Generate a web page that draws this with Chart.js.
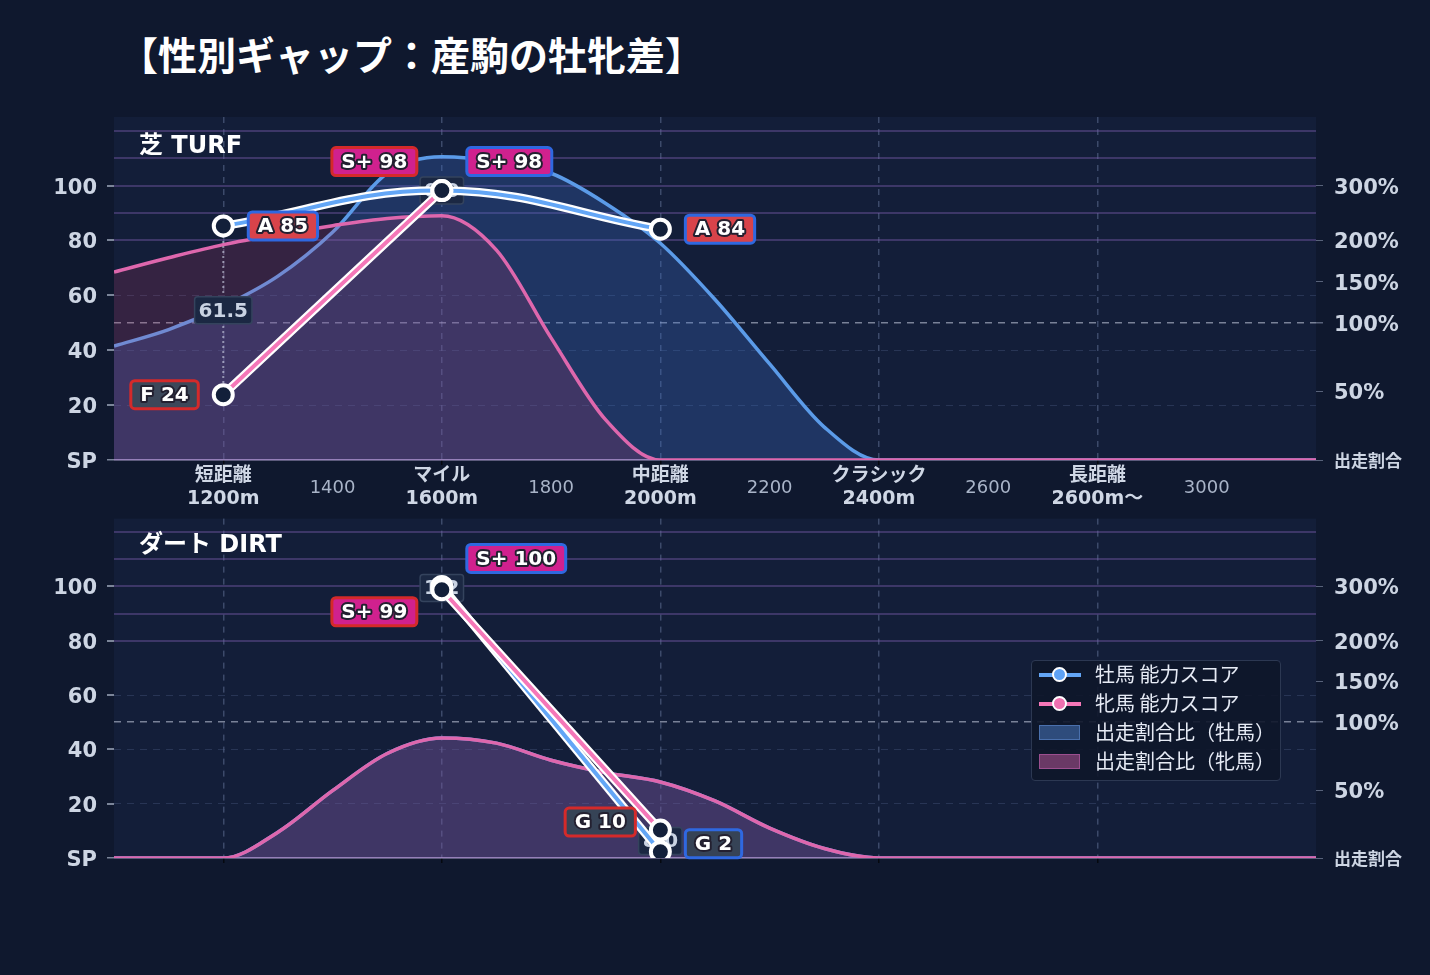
<!DOCTYPE html>
<html lang="ja">
<head>
<meta charset="utf-8">
<title>性別ギャップ：産駒の牡牝差</title>
<script src="https://cdn.jsdelivr.net/npm/chart.js@4.4.1/dist/chart.umd.min.js"></script>
<style>
body { margin: 0; background: #0f182e; }
#wrap { position: relative; width: 1430px; height: 975px; overflow: hidden; font-family: "DejaVu Sans", "Noto Sans CJK JP", sans-serif; }
canvas { position: absolute; left: 0; }
#title { position: absolute; left: 119px; top: 34px; font: bold 39px/39px "Noto Sans CJK JP", sans-serif; color: #fff; white-space: nowrap; }
.panel { position: absolute; left: 139px; font-weight: bold; font-size: 24px; line-height: 24px; color: #fff; white-space: nowrap; }
#legend { position: absolute; left: 1031px; top: 660px; width: 250px; height: 121px; box-sizing: border-box;
  background: rgba(14, 22, 42, 0.9); border: 1.5px solid #2c3852; border-radius: 4px; padding: 0 0 0 7px; }
.item { height: 29px; display: flex; align-items: center; font: 20px "Noto Sans CJK JP", sans-serif; color: #e6ebf5; white-space: nowrap; position: relative; top: -2px; }
.sw { width: 42px; height: 15px; margin-right: 14px; position: relative; flex: none; top: 1px; }
.sw .ln { position: absolute; left: 0; right: 0; top: 5.5px; height: 4px; }
.sw .dot { position: absolute; left: 13px; top: 0; width: 11px; height: 11px; border: 2px solid #fff; border-radius: 50%; }
.sw .box { position: absolute; left: 0; top: 0; width: 39px; height: 13px; }
</style>
</head>
<body>
<div id="wrap">
  <div id="title">【性別ギャップ：産駒の牡牝差】</div>
  <canvas id="turfChart" width="1430" height="515" style="top:0"></canvas>
  <canvas id="dirtChart" width="1430" height="480" style="top:495px"></canvas>
  <div class="panel" style="top:133px">芝 TURF</div>
  <div class="panel" style="top:532px">ダート DIRT</div>
  <div id="legend"></div>
</div>
<script>
// 距離（m）
const distances = [1000, 1100, 1200, 1300, 1400, 1500, 1600, 1700, 1800, 1900, 2000, 2100,
    2200, 2300, 2400, 2500, 2600, 2700, 2800, 2900, 3000, 3100, 3200];

// 出走割合比（左軸の目盛りに換算した値）
const turfShareM = [41.5, 47.5, 56, 67, 83, 104.5, 110.5, 108.8, 104.5, 93.5, 79, 58.5,
    35, 12, 0, 0, 0, 0, 0, 0, 0, 0, 0];
const turfShareF = [68.5, 73.7, 78.5, 82.2, 85.4, 88, 89, 76.5, 44.5, 14.6, 0, 0,
    0, 0, 0, 0, 0, 0, 0, 0, 0, 0, 0];
const dirtShareM = [0, 0, 0, 9.5, 24.8, 38.5, 44.2, 42.3, 36, 31.4, 28, 21,
    11, 3.5, 0, 0, 0, 0, 0, 0, 0, 0, 0];
const dirtShareF = [0, 0, 0, 9.5, 24.8, 38.5, 44.2, 42.3, 36, 31.4, 28, 21,
    11, 3.5, 0, 0, 0, 0, 0, 0, 0, 0, 0];

// 能力スコア
const turfScoreDistM = [1200, 1600, 2000];
const turfScoreM = [85.3, 98.2, 84.1];
const turfScoreDistF = [1200, 1600];
const turfScoreF = [23.8, 98.2];
const dirtScoreDistM = [1600, 2000];
const dirtScoreM = [100.0, 2.3];
const dirtScoreDistF = [1600, 2000];
const dirtScoreF = [98.8, 10.3];

// ラベルの上下ずらし（px）
const turfShiftM = [0, -29, 0];
const turfShiftF = [0, -29];
const dirtShiftM = [-28, -8];
const dirtShiftF = [22, -8];

// 目盛り
const xTicks = [1200, 1400, 1600, 1800, 2000, 2200, 2400, 2600, 2800, 3000];
const zoneLabels = {
    1200: ['短距離', '1200m'],
    1600: ['マイル', '1600m'],
    2000: ['中距離', '2000m'],
    2400: ['クラシック', '2400m'],
    2800: ['長距離', '2600m〜']
};
const leftTicks = [0, 20, 40, 60, 80, 90, 100, 110, 120];
const leftTickText = ['SP', '20', '40', '60', '80', '', '100', '', ''];
const rightTicks = [0, 20, 25, 40, 50, 60, 65, 80, 100];
const rightTickText = ['出走割合', '', '50%', '', '100%', '', '150%', '200%', '300%'];

const ranks = [['S+', 95], ['S', 90], ['A', 80], ['B', 70], ['C', 60], ['D', 50], ['E', 40], ['F', 20], ['G', 0]];
const rankFill = {
    'S+': '#d0218e', 'S': '#b8309e', 'A': '#d8434a', 'B': '#e07a30', 'C': '#c9a020',
    'D': '#5a9a40', 'E': '#3a80b0', 'F': '#3c4759', 'G': '#364356'
};

const BLUE = '#63a6f6';
const PINK = '#f577b8';

Chart.defaults.font.family = '"DejaVu Sans", "Noto Sans CJK JP", sans-serif';

function rankOf(v) {
    for (const [r, t] of ranks) {
        if (v >= t) return r;
    }
    return 'G';
}

function pts(xs, ys) {
    return xs.map((x, i) => ({x: x, y: ys[i]}));
}

const bgPlugin = {
    id: 'plotBg',
    beforeDraw(chart) {
        const a = chart.chartArea;
        chart.ctx.save();
        chart.ctx.fillStyle = '#131e39';
        chart.ctx.fillRect(a.left, a.top, a.right - a.left, a.bottom - a.top);
        chart.ctx.restore();
    }
};

// 牡牝の差（点の間の点線と差の値）
const gapPlugin = {
    id: 'gaps',
    afterDatasetDraw(chart, args) {
        const ds = chart.data.datasets[args.index];
        if (ds.role !== 'areaF') return;
        const m = chart.data.datasets.find(d => d.role === 'scoreM');
        const f = chart.data.datasets.find(d => d.role === 'scoreF');
        const xs = chart.scales.x, ys = chart.scales.y;
        const ctx = chart.ctx;
        m.data.forEach(pm => {
            const pf = f.data.find(p => p.x === pm.x);
            if (!pf) return;
            const px = xs.getPixelForValue(pm.x);
            const y1 = ys.getPixelForValue(pm.y);
            const y2 = ys.getPixelForValue(pf.y);
            ctx.save();
            ctx.strokeStyle = 'rgba(205,210,228,0.6)';
            ctx.lineWidth = 2;
            ctx.setLineDash([2, 3]);
            ctx.beginPath();
            ctx.moveTo(px, y1);
            ctx.lineTo(px, y2);
            ctx.stroke();
            ctx.setLineDash([]);

            const text = Math.abs(pm.y - pf.y).toFixed(1);
            ctx.font = 'bold 20px "DejaVu Sans"';
            const w = ctx.measureText(text).width + 8;
            const h = 27;
            const cy = ys.getPixelForValue((pm.y + pf.y) / 2);
            ctx.beginPath();
            ctx.roundRect(px - w / 2, cy - h / 2, w, h, 3);
            ctx.fillStyle = '#1b2843';
            ctx.fill();
            ctx.strokeStyle = '#34435d';
            ctx.lineWidth = 1.5;
            ctx.stroke();
            ctx.fillStyle = '#c9d3e3';
            ctx.textAlign = 'center';
            ctx.textBaseline = 'middle';
            ctx.fillText(text, px, cy + 1);
            ctx.restore();
        });
    }
};

// ランクのバッジ
const badgePlugin = {
    id: 'badges',
    afterDatasetsDraw(chart) {
        const ctx = chart.ctx;
        chart.data.datasets.forEach((ds, i) => {
            if (ds.role !== 'scoreM' && ds.role !== 'scoreF') return;
            const meta = chart.getDatasetMeta(i);
            meta.data.forEach((pt, j) => {
                const v = ds.data[j].y;
                const text = rankOf(v) + ' ' + Math.round(v);
                ctx.save();
                ctx.font = 'bold 20px "DejaVu Sans"';
                const w = ctx.measureText(text).width + 19;
                const h = 28;
                const cy = pt.y + ds.badgeShift[j];
                const x0 = ds.role === 'scoreM' ? pt.x + 25 : pt.x - 25 - w;
                ctx.beginPath();
                ctx.roundRect(x0, cy - h / 2, w, h, 4);
                ctx.fillStyle = rankFill[rankOf(v)];
                ctx.fill();
                ctx.lineWidth = 3;
                ctx.strokeStyle = ds.role === 'scoreM' ? '#2f68e0' : '#d42a2a';
                ctx.stroke();
                ctx.textAlign = 'center';
                ctx.textBaseline = 'middle';
                ctx.lineJoin = 'round';
                ctx.lineWidth = 4;
                ctx.strokeStyle = '#232030';
                ctx.strokeText(text, x0 + w / 2, cy + 1);
                ctx.fillStyle = '#ffffff';
                ctx.fillText(text, x0 + w / 2, cy + 1);
                ctx.restore();
            });
        });
    }
};

function buildDatasets(distM, scoreM, shiftM, distF, scoreF, shiftF, shareM, shareF) {
    return [{
        label: '牡馬 能力スコア',
        role: 'scoreM',
        data: pts(distM, scoreM),
        badgeShift: shiftM,
        borderColor: BLUE,
        borderWidth: 4,
        tension: 0.4,
        pointRadius: 9.5,
        pointBorderWidth: 4,
        pointBorderColor: '#ffffff',
        pointBackgroundColor: '#13203a',
        fill: false,
        order: 2
    }, {
        role: 'haloM',
        data: pts(distM, scoreM),
        borderColor: '#ffffff',
        borderWidth: 8.5,
        tension: 0.4,
        pointRadius: 0,
        fill: false,
        order: 3
    }, {
        label: '牝馬 能力スコア',
        role: 'scoreF',
        data: pts(distF, scoreF),
        badgeShift: shiftF,
        borderColor: PINK,
        borderWidth: 4,
        tension: 0.4,
        pointRadius: 9.5,
        pointBorderWidth: 4,
        pointBorderColor: '#ffffff',
        pointBackgroundColor: '#13203a',
        fill: false,
        order: 0
    }, {
        role: 'haloF',
        data: pts(distF, scoreF),
        borderColor: '#ffffff',
        borderWidth: 8.5,
        tension: 0.4,
        pointRadius: 0,
        fill: false,
        order: 1
    }, {
        label: '出走割合比（牡馬）',
        role: 'areaM',
        data: pts(distances, shareM),
        borderColor: '#5b9be8',
        borderWidth: 3.5,
        backgroundColor: 'rgba(59,110,200,0.3)',
        fill: 'origin',
        pointRadius: 0,
        cubicInterpolationMode: 'monotone',
        order: 5
    }, {
        label: '出走割合比（牝馬）',
        role: 'areaF',
        data: pts(distances, shareF),
        borderColor: '#de67ad',
        borderWidth: 3.5,
        backgroundColor: 'rgba(210,60,110,0.18)',
        fill: 'origin',
        pointRadius: 0,
        cubicInterpolationMode: 'monotone',
        order: 4
    }];
}

function getChartOptions(padTop, xHeight, showX) {
    return {
        responsive: false,
        animation: false,
        layout: {padding: {top: padTop, left: 0, right: 0, bottom: 0}},
        plugins: {
            legend: {display: false},
            tooltip: {enabled: false}
        },
        scales: {
            x: {
                type: 'linear',
                min: 1000,
                max: 3200,
                afterBuildTicks: s => { s.ticks = xTicks.map(v => ({value: v})); },
                afterFit: s => { s.height = xHeight; },
                grid: {
                    color: c => zoneLabels[c.tick && c.tick.value] ? 'rgba(88,104,140,0.6)' : 'rgba(0,0,0,0)',
                    lineWidth: 1.5,
                    tickLength: 5,
                    tickColor: c => zoneLabels[c.tick && c.tick.value] ? '#05080f' : 'rgba(0,0,0,0)'
                },
                border: {display: false, dash: [6, 6]},
                ticks: {
                    display: showX,
                    autoSkip: false,
                    maxRotation: 0,
                    padding: 11.5,
                    crossAlign: 'center',
                    callback: v => zoneLabels[v] || String(v),
                    font: c => zoneLabels[c.tick && c.tick.value] ? {size: 19, weight: 'bold', lineHeight: 1.2} : {size: 18, weight: 'normal', lineHeight: 1.2},
                    color: c => zoneLabels[c.tick && c.tick.value] ? '#cfd7e5' : '#a9b4c8'
                }
            },
            y: {
                position: 'left',
                min: 0,
                max: 125,
                afterBuildTicks: s => { s.ticks = leftTicks.map(v => ({value: v})); },
                afterFit: s => { s.width = 114; },
                grid: {
                    color: c => {
                        const v = c.tick && c.tick.value;
                        if (v === 0) return 'rgba(196,180,230,0.85)';
                        if (v >= 80) return 'rgba(120,90,170,0.42)';
                        return 'rgba(0,0,0,0)';
                    },
                    lineWidth: c => (c.tick && c.tick.value === 0) ? 1.5 : 2,
                    tickLength: 7,
                    tickColor: c => leftTickText[leftTicks.indexOf(c.tick.value)] ? 'rgba(170,180,200,0.7)' : 'rgba(0,0,0,0)'
                },
                border: {display: false},
                ticks: {
                    autoSkip: false,
                    padding: 10,
                    labelOffset: 2.5,
                    callback: v => leftTickText[leftTicks.indexOf(v)],
                    font: {size: 21, weight: 'bold'},
                    color: '#cdd5e3'
                }
            },
            y2: {
                position: 'right',
                min: 0,
                max: 125,
                afterBuildTicks: s => { s.ticks = rightTicks.map(v => ({value: v})); },
                afterFit: s => { s.width = 114; },
                grid: {
                    color: c => {
                        const v = c.tick && c.tick.value;
                        if (v === 50) return 'rgba(190,196,216,0.6)';
                        if (v === 20 || v === 40 || v === 60) return 'rgba(80,98,138,0.35)';
                        return 'rgba(0,0,0,0)';
                    },
                    lineWidth: c => (c.tick && c.tick.value === 50) ? 1.5 : 1,
                    tickLength: 7,
                    tickColor: c => rightTickText[rightTicks.indexOf(c.tick.value)] ? 'rgba(120,130,155,0.7)' : 'rgba(0,0,0,0)'
                },
                border: {display: false, dash: [7, 6]},
                ticks: {
                    autoSkip: false,
                    padding: 11,
                    labelOffset: 2.5,
                    callback: v => rightTickText[rightTicks.indexOf(v)],
                    font: c => (c.tick && c.tick.value === 0) ? {size: 17, weight: 'bold'} : {size: 21, weight: 'bold'},
                    color: '#cdd5e3'
                }
            }
        }
    };
}

const turfChart = new Chart(document.getElementById('turfChart').getContext('2d'), {
    type: 'line',
    data: {
        datasets: buildDatasets(turfScoreDistM, turfScoreM, turfShiftM, turfScoreDistF, turfScoreF, turfShiftF, turfShareM, turfShareF)
    },
    options: getChartOptions(117, 55, true),
    plugins: [bgPlugin, gapPlugin, badgePlugin]
});

const dirtChart = new Chart(document.getElementById('dirtChart').getContext('2d'), {
    type: 'line',
    data: {
        datasets: buildDatasets(dirtScoreDistM, dirtScoreM, dirtShiftM, dirtScoreDistF, dirtScoreF, dirtShiftF, dirtShareM, dirtShareF)
    },
    options: getChartOptions(20, 117, false),
    plugins: [bgPlugin, gapPlugin, badgePlugin]
});

// 凡例（HTML）
const legendEl = document.getElementById('legend');
const legendStyle = {
    scoreM: {line: BLUE, dot: '#5ea2f5'},
    scoreF: {line: PINK, dot: '#f070b0'},
    areaM: {fill: '#2e4c7c', border: '#4a70ad'},
    areaF: {fill: '#6a3966', border: '#9b4f8f'}
};
['scoreM', 'scoreF', 'areaM', 'areaF'].forEach(role => {
    const ds = dirtChart.data.datasets.find(d => d.role === role);
    const st = legendStyle[role];
    const item = document.createElement('div');
    item.className = 'item';
    const sw = document.createElement('span');
    sw.className = 'sw';
    if (st.line) {
        sw.innerHTML = '<span class="ln" style="background:' + st.line + '"></span>' +
            '<span class="dot" style="background:' + st.dot + '"></span>';
    } else {
        sw.innerHTML = '<span class="box" style="background:' + st.fill + ';border:1.5px solid ' + st.border + '"></span>';
    }
    const tx = document.createElement('span');
    tx.textContent = ds.label;
    item.appendChild(sw);
    item.appendChild(tx);
    legendEl.appendChild(item);
});
</script>
</body>
</html>
